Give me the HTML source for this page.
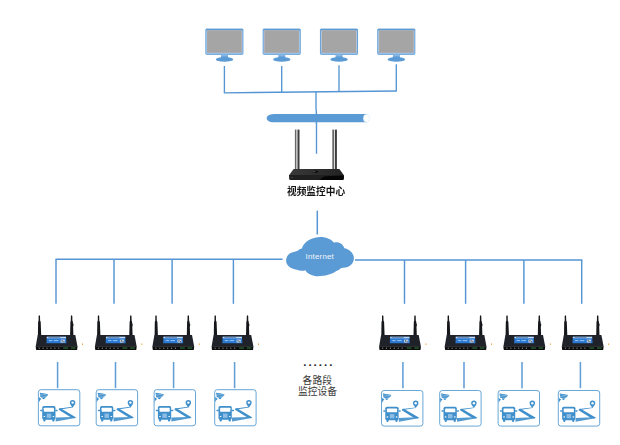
<!DOCTYPE html>
<html lang="zh-CN">
<head>
<meta charset="utf-8">
<title>视频监控中心</title>
<style>
html,body{margin:0;padding:0;background:#fff;}
body{width:620px;height:445px;overflow:hidden;position:relative;font-family:"Liberation Sans","Noto Sans CJK SC",sans-serif;}
svg{position:absolute;left:0;top:0;display:block;}
.t{position:absolute;white-space:nowrap;margin:0;}
#center{left:287px;top:185.6px;width:58px;text-align:center;font-size:9.7px;line-height:12px;font-weight:700;color:#141414;transform:scaleY(1.05);}
#inet{left:303.3px;top:251.7px;width:33px;text-align:center;font-size:7.9px;line-height:10px;color:#eef4fb;letter-spacing:0.2px;}
#dots{left:303.2px;top:355.0px;width:41px;text-align:left;font-size:11.5px;line-height:14px;color:#222;letter-spacing:2.0px;font-weight:700;}
#seg1{left:296.8px;top:374.8px;width:41px;text-align:center;font-size:9.8px;line-height:12px;color:#3a3a3a;}
#seg2{left:297px;top:385.9px;width:41px;text-align:center;font-size:9.8px;line-height:12px;color:#3a3a3a;}
</style>
</head>
<body>
<svg width="620" height="445" viewBox="0 0 620 445">
<g stroke="#5595d3" stroke-width="1.35" fill="none" stroke-linecap="butt"><line x1="224.4" y1="66" x2="224.4" y2="92.80"/>
<line x1="281.7" y1="66" x2="281.7" y2="92.20"/>
<line x1="339.0" y1="65.2" x2="339.0" y2="91.60"/>
<line x1="396.3" y1="64.2" x2="396.3" y2="91.00"/>
<line x1="223.8" y1="92.8" x2="396.9" y2="91.0"/>
<path d="M316 91.8 L316 108 L316.5 114 L316.5 153.8"/>
<line x1="317.3" y1="210.7" x2="317.3" y2="234.5" stroke-width="1.5"/>
<line x1="55.5" y1="259.2" x2="282.6" y2="259.2"/>
<line x1="355" y1="260" x2="582.4" y2="260"/>
<line x1="56" y1="259.2" x2="56" y2="303.8" stroke-width="1.45"/>
<line x1="114" y1="259.2" x2="114" y2="303.8" stroke-width="1.45"/>
<line x1="172.1" y1="259.2" x2="172.1" y2="303.8" stroke-width="1.45"/>
<line x1="233.4" y1="259.2" x2="233.4" y2="303.8" stroke-width="1.45"/>
<line x1="404.5" y1="260" x2="404.5" y2="303.8" stroke-width="1.45"/>
<line x1="465.6" y1="260" x2="465.6" y2="303.8" stroke-width="1.45"/>
<line x1="523.9" y1="260" x2="523.9" y2="303.8" stroke-width="1.45"/>
<line x1="581.7" y1="260" x2="581.7" y2="303.8" stroke-width="1.45"/>
<line x1="57.6" y1="362" x2="57.6" y2="388.2" stroke-width="1.55" stroke="#629ed7"/>
<line x1="115.5" y1="362" x2="115.5" y2="388.2" stroke-width="1.55" stroke="#629ed7"/>
<line x1="173.6" y1="362" x2="173.6" y2="388.2" stroke-width="1.55" stroke="#629ed7"/>
<line x1="234.6" y1="362" x2="234.6" y2="388.2" stroke-width="1.55" stroke="#629ed7"/>
<line x1="402.9" y1="362" x2="402.9" y2="388.2" stroke-width="1.55" stroke="#629ed7"/>
<line x1="464" y1="362" x2="464" y2="388.2" stroke-width="1.55" stroke="#629ed7"/>
<line x1="522" y1="362" x2="522" y2="388.2" stroke-width="1.55" stroke="#629ed7"/>
<line x1="580.4" y1="362" x2="580.4" y2="388.2" stroke-width="1.55" stroke="#629ed7"/></g>
<g transform="translate(205.4,28.6)">
<rect x="0.45" y="0.45" width="37.1" height="25.3" rx="0.6" fill="#b4d2ee" stroke="#5797d3" stroke-width="0.9"/>
<rect x="0.9" y="22.8" width="36.2" height="2.2" fill="#8cb9e3"/>
<rect x="0.5" y="0.4" width="37" height="1.4" rx="0.6" fill="#5b9bd5"/>
<rect x="1.6" y="1.7" width="34.8" height="22.4" fill="#b7adaf"/>
<rect x="2" y="2.1" width="34" height="21.6" fill="#a5a5a5"/>
<path d="M15.8 26 L22.4 26 L22.8 29.6 L15.4 29.6 Z" fill="#6ea6dc"/>
<rect x="15.8" y="26" width="6.6" height="1.2" fill="#8fbbe6"/>
<ellipse cx="19.1" cy="30.8" rx="8.7" ry="2.4" fill="#5b9bd5"/>
</g>
<g transform="translate(262.7,28.6)">
<rect x="0.45" y="0.45" width="37.1" height="25.3" rx="0.6" fill="#b4d2ee" stroke="#5797d3" stroke-width="0.9"/>
<rect x="0.9" y="22.8" width="36.2" height="2.2" fill="#8cb9e3"/>
<rect x="0.5" y="0.4" width="37" height="1.4" rx="0.6" fill="#5b9bd5"/>
<rect x="1.6" y="1.7" width="34.8" height="22.4" fill="#b7adaf"/>
<rect x="2" y="2.1" width="34" height="21.6" fill="#a5a5a5"/>
<path d="M15.8 26 L22.4 26 L22.8 29.6 L15.4 29.6 Z" fill="#6ea6dc"/>
<rect x="15.8" y="26" width="6.6" height="1.2" fill="#8fbbe6"/>
<ellipse cx="19.1" cy="30.8" rx="8.7" ry="2.4" fill="#5b9bd5"/>
</g>
<g transform="translate(320.0,28.6)">
<rect x="0.45" y="0.45" width="37.1" height="25.3" rx="0.6" fill="#b4d2ee" stroke="#5797d3" stroke-width="0.9"/>
<rect x="0.9" y="22.8" width="36.2" height="2.2" fill="#8cb9e3"/>
<rect x="0.5" y="0.4" width="37" height="1.4" rx="0.6" fill="#5b9bd5"/>
<rect x="1.6" y="1.7" width="34.8" height="22.4" fill="#b7adaf"/>
<rect x="2" y="2.1" width="34" height="21.6" fill="#a5a5a5"/>
<path d="M15.8 26 L22.4 26 L22.8 29.6 L15.4 29.6 Z" fill="#6ea6dc"/>
<rect x="15.8" y="26" width="6.6" height="1.2" fill="#8fbbe6"/>
<ellipse cx="19.1" cy="30.8" rx="8.7" ry="2.4" fill="#5b9bd5"/>
</g>
<g transform="translate(377.3,28.6)">
<rect x="0.45" y="0.45" width="37.1" height="25.3" rx="0.6" fill="#b4d2ee" stroke="#5797d3" stroke-width="0.9"/>
<rect x="0.9" y="22.8" width="36.2" height="2.2" fill="#8cb9e3"/>
<rect x="0.5" y="0.4" width="37" height="1.4" rx="0.6" fill="#5b9bd5"/>
<rect x="1.6" y="1.7" width="34.8" height="22.4" fill="#b7adaf"/>
<rect x="2" y="2.1" width="34" height="21.6" fill="#a5a5a5"/>
<path d="M15.8 26 L22.4 26 L22.8 29.6 L15.4 29.6 Z" fill="#6ea6dc"/>
<rect x="15.8" y="26" width="6.6" height="1.2" fill="#8fbbe6"/>
<ellipse cx="19.1" cy="30.8" rx="8.7" ry="2.4" fill="#5b9bd5"/>
</g>
<path d="M274 114 L366.6 114 L366.6 122.3 L274 122.3 C268.6 122.1 266.7 120 266.7 118.15 C266.7 116.3 268.6 114.2 274 114 Z" fill="#5b9bd5"/>
<ellipse cx="366.4" cy="118.15" rx="3.2" ry="4" fill="#fff" stroke="#5b9bd5" stroke-opacity="0.22" stroke-width="0.6"/>
<line x1="316.4" y1="113" x2="316.4" y2="124" stroke="#5b9bd5" stroke-width="1.3"/>
<g>
<defs><linearGradient id="rtop" x1="0" y1="0" x2="1" y2="0"><stop offset="0" stop-color="#3a3a3a"/><stop offset="0.5" stop-color="#2e2e2e"/><stop offset="1" stop-color="#222"/></linearGradient></defs>
<rect x="294.9" y="129.6" width="1.7" height="40" fill="#686868"/>
<rect x="296.6" y="129.6" width="0.9" height="40" fill="#ececec"/>
<rect x="297.5" y="129.6" width="2" height="40" fill="#3c3c3c"/>
<rect x="332.3" y="129.6" width="1.7" height="40" fill="#686868"/>
<rect x="334" y="129.6" width="0.9" height="40" fill="#ececec"/>
<rect x="334.9" y="129.6" width="2" height="40" fill="#3c3c3c"/>
<path d="M293.6 168.9 L339.4 168.9 L343.9 175.2 L289 175.2 Z" fill="url(#rtop)"/>
<path d="M289 175 L343.9 175 L343.7 179 Q343.5 179.9 342.6 179.9 L290.3 179.9 Q289.4 179.9 289.2 179 Z" fill="#1f1f1f"/>
<path d="M318 179.9 C322 179.6 322 176.4 326 176.2 L343.9 175.6 L343.7 179 Q343.5 179.9 342.6 179.9 Z" fill="#050505"/>
<ellipse cx="315.6" cy="171.8" rx="2.8" ry="1.2" fill="#121212"/>
<ellipse cx="314.2" cy="171.5" rx="1.2" ry="0.5" fill="#555"/>
<rect x="291.4" y="177" width="1.2" height="1" fill="#555"/>
</g>
<path fill="#5b9bd5" d="M286.1 260.6 C286.1 256 289.5 252.3 293.9 252 C295.5 251.6 297 251.2 298.2 250.6 C298.8 249.8 299.5 249.3 300.4 249.1 C301 248.9 301.6 248.6 302 248.2 C303.6 242.2 311.5 237 320.6 237 C326.6 237 331.6 239.6 334.2 242.8 C336 241.6 342.5 242.5 344.4 248.2 C349.5 249 354 253.5 353.9 258.4 C353.8 263 350 267.5 343 267.8 C342.3 267.9 341.7 268 341.2 268.1 C340.3 269.2 338 270.6 336.3 271.1 C332 274.5 325 276.2 318 276.2 C312.5 276.2 307.5 273.8 305.2 270.2 C303.5 271 299.5 271 296.9 269.8 C290.5 269 286.1 265.5 286.1 260.6 Z"/>
<g style="filter:blur(0.3px)">
<g transform="translate(35.7,315)">
<path d="M2.2 20.4 L2.4 7 L2.9 5.6 L2.9 0.9 Q3.6 -0.3 4.3 0.9 L4.4 5.6 L5 7 L5.5 20.4 Z" fill="#16171a"/>
<path d="M34.4 20.4 L34.7 7 L35.1 5.6 L35.2 0.9 Q35.9 -0.3 36.6 0.9 L36.7 5.6 L37.2 7 L37.3 8.6 L37.8 9 L37.7 11 L37.4 11.4 L37.7 20.4 Z" fill="#16171a"/>
<path d="M2 19.9 L39.6 19.9 L41.8 31.4 L0 31.4 Z" fill="#1f2229"/>
<path d="M0 31.2 L41.8 31.2 L41.5 34.5 Q41.4 34.9 41 34.9 L0.8 34.9 Q0.4 34.9 0.3 34.5 Z" fill="#0c0c0e"/>
<path d="M11.1 21.7 L30.3 21.7 L30.8 28.2 L10.7 28.2 Z" fill="#2a78d0"/>
<path d="M11.1 21.7 L30.3 21.7 L30.4 23.3 L11 23.3 Z" fill="#c4dbf3"/>
<rect x="12.6" y="22.1" width="12" height="0.7" fill="#4a6f9e"/>
<rect x="25" y="24.6" width="4.2" height="3" fill="#c9d1de"/>
<rect x="25.9" y="25.3" width="1.2" height="1.2" fill="#3a4a66"/>
<rect x="27.6" y="26.2" width="1.1" height="1.1" fill="#3a4a66"/>
<rect x="13.2" y="25" width="3.4" height="1.1" fill="#8cbcf0"/>
<rect x="18" y="25" width="4.6" height="1.1" fill="#8cbcf0"/>
<g fill="#7d7d7d"><rect x="3.0" y="32.6" width="1.1" height="1.3"/><rect x="6.9" y="32.6" width="1.1" height="1.3"/><rect x="10.8" y="32.6" width="1.1" height="1.3"/><rect x="14.7" y="32.6" width="1.1" height="1.3"/><rect x="18.6" y="32.6" width="1.1" height="1.3"/><rect x="22.5" y="32.6" width="1.1" height="1.3"/></g>
<rect x="27.6" y="32.3" width="4.8" height="1.5" fill="#22592a"/>
<rect x="35.2" y="32.3" width="4.6" height="1.5" fill="#22592a"/>
<rect x="46.4" y="28.4" width="0.9" height="1.6" fill="#f2a52a"/>
</g>
<g transform="translate(94.9,315)">
<path d="M2.2 20.4 L2.4 7 L2.9 5.6 L2.9 0.9 Q3.6 -0.3 4.3 0.9 L4.4 5.6 L5 7 L5.5 20.4 Z" fill="#16171a"/>
<path d="M34.4 20.4 L34.7 7 L35.1 5.6 L35.2 0.9 Q35.9 -0.3 36.6 0.9 L36.7 5.6 L37.2 7 L37.3 8.6 L37.8 9 L37.7 11 L37.4 11.4 L37.7 20.4 Z" fill="#16171a"/>
<path d="M2 19.9 L39.6 19.9 L41.8 31.4 L0 31.4 Z" fill="#1f2229"/>
<path d="M0 31.2 L41.8 31.2 L41.5 34.5 Q41.4 34.9 41 34.9 L0.8 34.9 Q0.4 34.9 0.3 34.5 Z" fill="#0c0c0e"/>
<path d="M11.1 21.7 L30.3 21.7 L30.8 28.2 L10.7 28.2 Z" fill="#2a78d0"/>
<path d="M11.1 21.7 L30.3 21.7 L30.4 23.3 L11 23.3 Z" fill="#c4dbf3"/>
<rect x="12.6" y="22.1" width="12" height="0.7" fill="#4a6f9e"/>
<rect x="25" y="24.6" width="4.2" height="3" fill="#c9d1de"/>
<rect x="25.9" y="25.3" width="1.2" height="1.2" fill="#3a4a66"/>
<rect x="27.6" y="26.2" width="1.1" height="1.1" fill="#3a4a66"/>
<rect x="13.2" y="25" width="3.4" height="1.1" fill="#8cbcf0"/>
<rect x="18" y="25" width="4.6" height="1.1" fill="#8cbcf0"/>
<g fill="#7d7d7d"><rect x="3.0" y="32.6" width="1.1" height="1.3"/><rect x="6.9" y="32.6" width="1.1" height="1.3"/><rect x="10.8" y="32.6" width="1.1" height="1.3"/><rect x="14.7" y="32.6" width="1.1" height="1.3"/><rect x="18.6" y="32.6" width="1.1" height="1.3"/><rect x="22.5" y="32.6" width="1.1" height="1.3"/></g>
<rect x="27.6" y="32.3" width="4.8" height="1.5" fill="#22592a"/>
<rect x="35.2" y="32.3" width="4.6" height="1.5" fill="#22592a"/>
<rect x="46.4" y="28.4" width="0.9" height="1.6" fill="#f2a52a"/>
</g>
<g transform="translate(152.4,315)">
<path d="M2.2 20.4 L2.4 7 L2.9 5.6 L2.9 0.9 Q3.6 -0.3 4.3 0.9 L4.4 5.6 L5 7 L5.5 20.4 Z" fill="#16171a"/>
<path d="M34.4 20.4 L34.7 7 L35.1 5.6 L35.2 0.9 Q35.9 -0.3 36.6 0.9 L36.7 5.6 L37.2 7 L37.3 8.6 L37.8 9 L37.7 11 L37.4 11.4 L37.7 20.4 Z" fill="#16171a"/>
<path d="M2 19.9 L39.6 19.9 L41.8 31.4 L0 31.4 Z" fill="#1f2229"/>
<path d="M0 31.2 L41.8 31.2 L41.5 34.5 Q41.4 34.9 41 34.9 L0.8 34.9 Q0.4 34.9 0.3 34.5 Z" fill="#0c0c0e"/>
<path d="M11.1 21.7 L30.3 21.7 L30.8 28.2 L10.7 28.2 Z" fill="#2a78d0"/>
<path d="M11.1 21.7 L30.3 21.7 L30.4 23.3 L11 23.3 Z" fill="#c4dbf3"/>
<rect x="12.6" y="22.1" width="12" height="0.7" fill="#4a6f9e"/>
<rect x="25" y="24.6" width="4.2" height="3" fill="#c9d1de"/>
<rect x="25.9" y="25.3" width="1.2" height="1.2" fill="#3a4a66"/>
<rect x="27.6" y="26.2" width="1.1" height="1.1" fill="#3a4a66"/>
<rect x="13.2" y="25" width="3.4" height="1.1" fill="#8cbcf0"/>
<rect x="18" y="25" width="4.6" height="1.1" fill="#8cbcf0"/>
<g fill="#7d7d7d"><rect x="3.0" y="32.6" width="1.1" height="1.3"/><rect x="6.9" y="32.6" width="1.1" height="1.3"/><rect x="10.8" y="32.6" width="1.1" height="1.3"/><rect x="14.7" y="32.6" width="1.1" height="1.3"/><rect x="18.6" y="32.6" width="1.1" height="1.3"/><rect x="22.5" y="32.6" width="1.1" height="1.3"/></g>
<rect x="27.6" y="32.3" width="4.8" height="1.5" fill="#22592a"/>
<rect x="35.2" y="32.3" width="4.6" height="1.5" fill="#22592a"/>
<rect x="46.4" y="28.4" width="0.9" height="1.6" fill="#f2a52a"/>
</g>
<g transform="translate(211.6,315)">
<path d="M2.2 20.4 L2.4 7 L2.9 5.6 L2.9 0.9 Q3.6 -0.3 4.3 0.9 L4.4 5.6 L5 7 L5.5 20.4 Z" fill="#16171a"/>
<path d="M34.4 20.4 L34.7 7 L35.1 5.6 L35.2 0.9 Q35.9 -0.3 36.6 0.9 L36.7 5.6 L37.2 7 L37.3 8.6 L37.8 9 L37.7 11 L37.4 11.4 L37.7 20.4 Z" fill="#16171a"/>
<path d="M2 19.9 L39.6 19.9 L41.8 31.4 L0 31.4 Z" fill="#1f2229"/>
<path d="M0 31.2 L41.8 31.2 L41.5 34.5 Q41.4 34.9 41 34.9 L0.8 34.9 Q0.4 34.9 0.3 34.5 Z" fill="#0c0c0e"/>
<path d="M11.1 21.7 L30.3 21.7 L30.8 28.2 L10.7 28.2 Z" fill="#2a78d0"/>
<path d="M11.1 21.7 L30.3 21.7 L30.4 23.3 L11 23.3 Z" fill="#c4dbf3"/>
<rect x="12.6" y="22.1" width="12" height="0.7" fill="#4a6f9e"/>
<rect x="25" y="24.6" width="4.2" height="3" fill="#c9d1de"/>
<rect x="25.9" y="25.3" width="1.2" height="1.2" fill="#3a4a66"/>
<rect x="27.6" y="26.2" width="1.1" height="1.1" fill="#3a4a66"/>
<rect x="13.2" y="25" width="3.4" height="1.1" fill="#8cbcf0"/>
<rect x="18" y="25" width="4.6" height="1.1" fill="#8cbcf0"/>
<g fill="#7d7d7d"><rect x="3.0" y="32.6" width="1.1" height="1.3"/><rect x="6.9" y="32.6" width="1.1" height="1.3"/><rect x="10.8" y="32.6" width="1.1" height="1.3"/><rect x="14.7" y="32.6" width="1.1" height="1.3"/><rect x="18.6" y="32.6" width="1.1" height="1.3"/><rect x="22.5" y="32.6" width="1.1" height="1.3"/></g>
<rect x="27.6" y="32.3" width="4.8" height="1.5" fill="#22592a"/>
<rect x="35.2" y="32.3" width="4.6" height="1.5" fill="#22592a"/>
<rect x="46.4" y="28.4" width="0.9" height="1.6" fill="#f2a52a"/>
</g>
<g transform="translate(379.1,315)">
<path d="M2.2 20.4 L2.4 7 L2.9 5.6 L2.9 0.9 Q3.6 -0.3 4.3 0.9 L4.4 5.6 L5 7 L5.5 20.4 Z" fill="#16171a"/>
<path d="M34.4 20.4 L34.7 7 L35.1 5.6 L35.2 0.9 Q35.9 -0.3 36.6 0.9 L36.7 5.6 L37.2 7 L37.3 8.6 L37.8 9 L37.7 11 L37.4 11.4 L37.7 20.4 Z" fill="#16171a"/>
<path d="M2 19.9 L39.6 19.9 L41.8 31.4 L0 31.4 Z" fill="#1f2229"/>
<path d="M0 31.2 L41.8 31.2 L41.5 34.5 Q41.4 34.9 41 34.9 L0.8 34.9 Q0.4 34.9 0.3 34.5 Z" fill="#0c0c0e"/>
<path d="M11.1 21.7 L30.3 21.7 L30.8 28.2 L10.7 28.2 Z" fill="#2a78d0"/>
<path d="M11.1 21.7 L30.3 21.7 L30.4 23.3 L11 23.3 Z" fill="#c4dbf3"/>
<rect x="12.6" y="22.1" width="12" height="0.7" fill="#4a6f9e"/>
<rect x="25" y="24.6" width="4.2" height="3" fill="#c9d1de"/>
<rect x="25.9" y="25.3" width="1.2" height="1.2" fill="#3a4a66"/>
<rect x="27.6" y="26.2" width="1.1" height="1.1" fill="#3a4a66"/>
<rect x="13.2" y="25" width="3.4" height="1.1" fill="#8cbcf0"/>
<rect x="18" y="25" width="4.6" height="1.1" fill="#8cbcf0"/>
<g fill="#7d7d7d"><rect x="3.0" y="32.6" width="1.1" height="1.3"/><rect x="6.9" y="32.6" width="1.1" height="1.3"/><rect x="10.8" y="32.6" width="1.1" height="1.3"/><rect x="14.7" y="32.6" width="1.1" height="1.3"/><rect x="18.6" y="32.6" width="1.1" height="1.3"/><rect x="22.5" y="32.6" width="1.1" height="1.3"/></g>
<rect x="27.6" y="32.3" width="4.8" height="1.5" fill="#22592a"/>
<rect x="35.2" y="32.3" width="4.6" height="1.5" fill="#22592a"/>
<rect x="46.4" y="28.4" width="0.9" height="1.6" fill="#f2a52a"/>
</g>
<g transform="translate(444.7,315)">
<path d="M2.2 20.4 L2.4 7 L2.9 5.6 L2.9 0.9 Q3.6 -0.3 4.3 0.9 L4.4 5.6 L5 7 L5.5 20.4 Z" fill="#16171a"/>
<path d="M34.4 20.4 L34.7 7 L35.1 5.6 L35.2 0.9 Q35.9 -0.3 36.6 0.9 L36.7 5.6 L37.2 7 L37.3 8.6 L37.8 9 L37.7 11 L37.4 11.4 L37.7 20.4 Z" fill="#16171a"/>
<path d="M2 19.9 L39.6 19.9 L41.8 31.4 L0 31.4 Z" fill="#1f2229"/>
<path d="M0 31.2 L41.8 31.2 L41.5 34.5 Q41.4 34.9 41 34.9 L0.8 34.9 Q0.4 34.9 0.3 34.5 Z" fill="#0c0c0e"/>
<path d="M11.1 21.7 L30.3 21.7 L30.8 28.2 L10.7 28.2 Z" fill="#2a78d0"/>
<path d="M11.1 21.7 L30.3 21.7 L30.4 23.3 L11 23.3 Z" fill="#c4dbf3"/>
<rect x="12.6" y="22.1" width="12" height="0.7" fill="#4a6f9e"/>
<rect x="25" y="24.6" width="4.2" height="3" fill="#c9d1de"/>
<rect x="25.9" y="25.3" width="1.2" height="1.2" fill="#3a4a66"/>
<rect x="27.6" y="26.2" width="1.1" height="1.1" fill="#3a4a66"/>
<rect x="13.2" y="25" width="3.4" height="1.1" fill="#8cbcf0"/>
<rect x="18" y="25" width="4.6" height="1.1" fill="#8cbcf0"/>
<g fill="#7d7d7d"><rect x="3.0" y="32.6" width="1.1" height="1.3"/><rect x="6.9" y="32.6" width="1.1" height="1.3"/><rect x="10.8" y="32.6" width="1.1" height="1.3"/><rect x="14.7" y="32.6" width="1.1" height="1.3"/><rect x="18.6" y="32.6" width="1.1" height="1.3"/><rect x="22.5" y="32.6" width="1.1" height="1.3"/></g>
<rect x="27.6" y="32.3" width="4.8" height="1.5" fill="#22592a"/>
<rect x="35.2" y="32.3" width="4.6" height="1.5" fill="#22592a"/>
<rect x="46.4" y="28.4" width="0.9" height="1.6" fill="#f2a52a"/>
</g>
<g transform="translate(503.4,315)">
<path d="M2.2 20.4 L2.4 7 L2.9 5.6 L2.9 0.9 Q3.6 -0.3 4.3 0.9 L4.4 5.6 L5 7 L5.5 20.4 Z" fill="#16171a"/>
<path d="M34.4 20.4 L34.7 7 L35.1 5.6 L35.2 0.9 Q35.9 -0.3 36.6 0.9 L36.7 5.6 L37.2 7 L37.3 8.6 L37.8 9 L37.7 11 L37.4 11.4 L37.7 20.4 Z" fill="#16171a"/>
<path d="M2 19.9 L39.6 19.9 L41.8 31.4 L0 31.4 Z" fill="#1f2229"/>
<path d="M0 31.2 L41.8 31.2 L41.5 34.5 Q41.4 34.9 41 34.9 L0.8 34.9 Q0.4 34.9 0.3 34.5 Z" fill="#0c0c0e"/>
<path d="M11.1 21.7 L30.3 21.7 L30.8 28.2 L10.7 28.2 Z" fill="#2a78d0"/>
<path d="M11.1 21.7 L30.3 21.7 L30.4 23.3 L11 23.3 Z" fill="#c4dbf3"/>
<rect x="12.6" y="22.1" width="12" height="0.7" fill="#4a6f9e"/>
<rect x="25" y="24.6" width="4.2" height="3" fill="#c9d1de"/>
<rect x="25.9" y="25.3" width="1.2" height="1.2" fill="#3a4a66"/>
<rect x="27.6" y="26.2" width="1.1" height="1.1" fill="#3a4a66"/>
<rect x="13.2" y="25" width="3.4" height="1.1" fill="#8cbcf0"/>
<rect x="18" y="25" width="4.6" height="1.1" fill="#8cbcf0"/>
<g fill="#7d7d7d"><rect x="3.0" y="32.6" width="1.1" height="1.3"/><rect x="6.9" y="32.6" width="1.1" height="1.3"/><rect x="10.8" y="32.6" width="1.1" height="1.3"/><rect x="14.7" y="32.6" width="1.1" height="1.3"/><rect x="18.6" y="32.6" width="1.1" height="1.3"/><rect x="22.5" y="32.6" width="1.1" height="1.3"/></g>
<rect x="27.6" y="32.3" width="4.8" height="1.5" fill="#22592a"/>
<rect x="35.2" y="32.3" width="4.6" height="1.5" fill="#22592a"/>
<rect x="46.4" y="28.4" width="0.9" height="1.6" fill="#f2a52a"/>
</g>
<g transform="translate(561.8,315)">
<path d="M2.2 20.4 L2.4 7 L2.9 5.6 L2.9 0.9 Q3.6 -0.3 4.3 0.9 L4.4 5.6 L5 7 L5.5 20.4 Z" fill="#16171a"/>
<path d="M34.4 20.4 L34.7 7 L35.1 5.6 L35.2 0.9 Q35.9 -0.3 36.6 0.9 L36.7 5.6 L37.2 7 L37.3 8.6 L37.8 9 L37.7 11 L37.4 11.4 L37.7 20.4 Z" fill="#16171a"/>
<path d="M2 19.9 L39.6 19.9 L41.8 31.4 L0 31.4 Z" fill="#1f2229"/>
<path d="M0 31.2 L41.8 31.2 L41.5 34.5 Q41.4 34.9 41 34.9 L0.8 34.9 Q0.4 34.9 0.3 34.5 Z" fill="#0c0c0e"/>
<path d="M11.1 21.7 L30.3 21.7 L30.8 28.2 L10.7 28.2 Z" fill="#2a78d0"/>
<path d="M11.1 21.7 L30.3 21.7 L30.4 23.3 L11 23.3 Z" fill="#c4dbf3"/>
<rect x="12.6" y="22.1" width="12" height="0.7" fill="#4a6f9e"/>
<rect x="25" y="24.6" width="4.2" height="3" fill="#c9d1de"/>
<rect x="25.9" y="25.3" width="1.2" height="1.2" fill="#3a4a66"/>
<rect x="27.6" y="26.2" width="1.1" height="1.1" fill="#3a4a66"/>
<rect x="13.2" y="25" width="3.4" height="1.1" fill="#8cbcf0"/>
<rect x="18" y="25" width="4.6" height="1.1" fill="#8cbcf0"/>
<g fill="#7d7d7d"><rect x="3.0" y="32.6" width="1.1" height="1.3"/><rect x="6.9" y="32.6" width="1.1" height="1.3"/><rect x="10.8" y="32.6" width="1.1" height="1.3"/><rect x="14.7" y="32.6" width="1.1" height="1.3"/><rect x="18.6" y="32.6" width="1.1" height="1.3"/><rect x="22.5" y="32.6" width="1.1" height="1.3"/></g>
<rect x="27.6" y="32.3" width="4.8" height="1.5" fill="#22592a"/>
<rect x="35.2" y="32.3" width="4.6" height="1.5" fill="#22592a"/>
<rect x="46.4" y="28.4" width="0.9" height="1.6" fill="#f2a52a"/>
</g>
</g>
<g transform="translate(38.1,389.4) scale(1,0.992)">
<rect x="0.3" y="0.3" width="41.4" height="36.4" rx="2.6" fill="#fff" stroke="#3f8fcb" stroke-width="0.8"/>
<g fill="#3f8fcb">
<path d="M1.8 3.5 L10 4.9 L9.8 5.9 L8.2 7.6 L6.8 8.3 L2.4 7.7 Z" opacity="0.55"/>
<path d="M1.7 3.4 L10 4.8 L9.9 5.5 L1.8 4.4 Z"/>
<path d="M1.9 5 L9.4 6.1 L8.8 6.9 L2.1 6.1 Z"/>
<path d="M2.2 6.7 L8 7.5 L7 8.3 L2.5 7.8 Z"/>
<path d="M4 8.2 L7 8.6 L6 9.9 L4.6 9.8 Z"/>
<path d="M0.7 7.6 L3.3 9.7 L2 10.6 L0.9 12.9 Z"/>
<rect x="4.1" y="16.8" width="13.3" height="13.8" rx="1.7"/>
<rect x="2" y="20.4" width="2.4" height="1.6" rx="0.7"/>
<rect x="17.2" y="20.4" width="2.4" height="1.6" rx="0.7"/>
<rect x="5.2" y="29.6" width="2.2" height="2.8" rx="0.8"/>
<rect x="14.2" y="29.6" width="2.2" height="2.8" rx="0.8"/>
<path d="M34.2 17.6 L34.4 18.3 L22 20.3 L21.2 19.3 Z"/>
<path d="M21 19.2 L22.6 18.9 L37.6 28 L36.6 29 L33 28.4 L20.6 20.4 Z"/>
<path d="M17.6 28.3 L34 27.7 L37.6 28 L37.2 28.8 L17.6 32.3 Z" opacity="0.9"/>
<path d="M34.5 10.6 a2.75 2.75 0 0 1 2.75 2.75 c0 1.9 -1.9 3 -2.75 5.1 c-0.85 -2.1 -2.75 -3.2 -2.75 -5.1 a2.75 2.75 0 0 1 2.75 -2.75 Z"/>
</g>
<circle cx="34.5" cy="13.3" r="1.2" fill="#fff"/>
<rect x="5.7" y="18.6" width="10.2" height="4" rx="0.5" fill="#fff"/>
<rect x="8.6" y="24.4" width="4.5" height="4.3" fill="#8dbde4"/>
<ellipse cx="6.2" cy="27.3" rx="0.9" ry="0.6" fill="#fff"/>
<ellipse cx="15.4" cy="27.3" rx="0.9" ry="0.6" fill="#fff"/>
</g>
<g transform="translate(95.9,389.4) scale(1,0.992)">
<rect x="0.3" y="0.3" width="41.4" height="36.4" rx="2.6" fill="#fff" stroke="#3f8fcb" stroke-width="0.8"/>
<g fill="#3f8fcb">
<path d="M1.8 3.5 L10 4.9 L9.8 5.9 L8.2 7.6 L6.8 8.3 L2.4 7.7 Z" opacity="0.55"/>
<path d="M1.7 3.4 L10 4.8 L9.9 5.5 L1.8 4.4 Z"/>
<path d="M1.9 5 L9.4 6.1 L8.8 6.9 L2.1 6.1 Z"/>
<path d="M2.2 6.7 L8 7.5 L7 8.3 L2.5 7.8 Z"/>
<path d="M4 8.2 L7 8.6 L6 9.9 L4.6 9.8 Z"/>
<path d="M0.7 7.6 L3.3 9.7 L2 10.6 L0.9 12.9 Z"/>
<rect x="4.1" y="16.8" width="13.3" height="13.8" rx="1.7"/>
<rect x="2" y="20.4" width="2.4" height="1.6" rx="0.7"/>
<rect x="17.2" y="20.4" width="2.4" height="1.6" rx="0.7"/>
<rect x="5.2" y="29.6" width="2.2" height="2.8" rx="0.8"/>
<rect x="14.2" y="29.6" width="2.2" height="2.8" rx="0.8"/>
<path d="M34.2 17.6 L34.4 18.3 L22 20.3 L21.2 19.3 Z"/>
<path d="M21 19.2 L22.6 18.9 L37.6 28 L36.6 29 L33 28.4 L20.6 20.4 Z"/>
<path d="M17.6 28.3 L34 27.7 L37.6 28 L37.2 28.8 L17.6 32.3 Z" opacity="0.9"/>
<path d="M34.5 10.6 a2.75 2.75 0 0 1 2.75 2.75 c0 1.9 -1.9 3 -2.75 5.1 c-0.85 -2.1 -2.75 -3.2 -2.75 -5.1 a2.75 2.75 0 0 1 2.75 -2.75 Z"/>
</g>
<circle cx="34.5" cy="13.3" r="1.2" fill="#fff"/>
<rect x="5.7" y="18.6" width="10.2" height="4" rx="0.5" fill="#fff"/>
<rect x="8.6" y="24.4" width="4.5" height="4.3" fill="#8dbde4"/>
<ellipse cx="6.2" cy="27.3" rx="0.9" ry="0.6" fill="#fff"/>
<ellipse cx="15.4" cy="27.3" rx="0.9" ry="0.6" fill="#fff"/>
</g>
<g transform="translate(153.8,389.4) scale(1,0.992)">
<rect x="0.3" y="0.3" width="41.4" height="36.4" rx="2.6" fill="#fff" stroke="#3f8fcb" stroke-width="0.8"/>
<g fill="#3f8fcb">
<path d="M1.8 3.5 L10 4.9 L9.8 5.9 L8.2 7.6 L6.8 8.3 L2.4 7.7 Z" opacity="0.55"/>
<path d="M1.7 3.4 L10 4.8 L9.9 5.5 L1.8 4.4 Z"/>
<path d="M1.9 5 L9.4 6.1 L8.8 6.9 L2.1 6.1 Z"/>
<path d="M2.2 6.7 L8 7.5 L7 8.3 L2.5 7.8 Z"/>
<path d="M4 8.2 L7 8.6 L6 9.9 L4.6 9.8 Z"/>
<path d="M0.7 7.6 L3.3 9.7 L2 10.6 L0.9 12.9 Z"/>
<rect x="4.1" y="16.8" width="13.3" height="13.8" rx="1.7"/>
<rect x="2" y="20.4" width="2.4" height="1.6" rx="0.7"/>
<rect x="17.2" y="20.4" width="2.4" height="1.6" rx="0.7"/>
<rect x="5.2" y="29.6" width="2.2" height="2.8" rx="0.8"/>
<rect x="14.2" y="29.6" width="2.2" height="2.8" rx="0.8"/>
<path d="M34.2 17.6 L34.4 18.3 L22 20.3 L21.2 19.3 Z"/>
<path d="M21 19.2 L22.6 18.9 L37.6 28 L36.6 29 L33 28.4 L20.6 20.4 Z"/>
<path d="M17.6 28.3 L34 27.7 L37.6 28 L37.2 28.8 L17.6 32.3 Z" opacity="0.9"/>
<path d="M34.5 10.6 a2.75 2.75 0 0 1 2.75 2.75 c0 1.9 -1.9 3 -2.75 5.1 c-0.85 -2.1 -2.75 -3.2 -2.75 -5.1 a2.75 2.75 0 0 1 2.75 -2.75 Z"/>
</g>
<circle cx="34.5" cy="13.3" r="1.2" fill="#fff"/>
<rect x="5.7" y="18.6" width="10.2" height="4" rx="0.5" fill="#fff"/>
<rect x="8.6" y="24.4" width="4.5" height="4.3" fill="#8dbde4"/>
<ellipse cx="6.2" cy="27.3" rx="0.9" ry="0.6" fill="#fff"/>
<ellipse cx="15.4" cy="27.3" rx="0.9" ry="0.6" fill="#fff"/>
</g>
<g transform="translate(214.4,389.4) scale(1,0.992)">
<rect x="0.3" y="0.3" width="41.4" height="36.4" rx="2.6" fill="#fff" stroke="#3f8fcb" stroke-width="0.8"/>
<g fill="#3f8fcb">
<path d="M1.8 3.5 L10 4.9 L9.8 5.9 L8.2 7.6 L6.8 8.3 L2.4 7.7 Z" opacity="0.55"/>
<path d="M1.7 3.4 L10 4.8 L9.9 5.5 L1.8 4.4 Z"/>
<path d="M1.9 5 L9.4 6.1 L8.8 6.9 L2.1 6.1 Z"/>
<path d="M2.2 6.7 L8 7.5 L7 8.3 L2.5 7.8 Z"/>
<path d="M4 8.2 L7 8.6 L6 9.9 L4.6 9.8 Z"/>
<path d="M0.7 7.6 L3.3 9.7 L2 10.6 L0.9 12.9 Z"/>
<rect x="4.1" y="16.8" width="13.3" height="13.8" rx="1.7"/>
<rect x="2" y="20.4" width="2.4" height="1.6" rx="0.7"/>
<rect x="17.2" y="20.4" width="2.4" height="1.6" rx="0.7"/>
<rect x="5.2" y="29.6" width="2.2" height="2.8" rx="0.8"/>
<rect x="14.2" y="29.6" width="2.2" height="2.8" rx="0.8"/>
<path d="M34.2 17.6 L34.4 18.3 L22 20.3 L21.2 19.3 Z"/>
<path d="M21 19.2 L22.6 18.9 L37.6 28 L36.6 29 L33 28.4 L20.6 20.4 Z"/>
<path d="M17.6 28.3 L34 27.7 L37.6 28 L37.2 28.8 L17.6 32.3 Z" opacity="0.9"/>
<path d="M34.5 10.6 a2.75 2.75 0 0 1 2.75 2.75 c0 1.9 -1.9 3 -2.75 5.1 c-0.85 -2.1 -2.75 -3.2 -2.75 -5.1 a2.75 2.75 0 0 1 2.75 -2.75 Z"/>
</g>
<circle cx="34.5" cy="13.3" r="1.2" fill="#fff"/>
<rect x="5.7" y="18.6" width="10.2" height="4" rx="0.5" fill="#fff"/>
<rect x="8.6" y="24.4" width="4.5" height="4.3" fill="#8dbde4"/>
<ellipse cx="6.2" cy="27.3" rx="0.9" ry="0.6" fill="#fff"/>
<ellipse cx="15.4" cy="27.3" rx="0.9" ry="0.6" fill="#fff"/>
</g>
<g transform="translate(381.2,390.2) scale(1,0.978)">
<rect x="0.3" y="0.3" width="41.4" height="36.4" rx="2.6" fill="#fff" stroke="#3f8fcb" stroke-width="0.8"/>
<g fill="#3f8fcb">
<path d="M1.8 3.5 L10 4.9 L9.8 5.9 L8.2 7.6 L6.8 8.3 L2.4 7.7 Z" opacity="0.55"/>
<path d="M1.7 3.4 L10 4.8 L9.9 5.5 L1.8 4.4 Z"/>
<path d="M1.9 5 L9.4 6.1 L8.8 6.9 L2.1 6.1 Z"/>
<path d="M2.2 6.7 L8 7.5 L7 8.3 L2.5 7.8 Z"/>
<path d="M4 8.2 L7 8.6 L6 9.9 L4.6 9.8 Z"/>
<path d="M0.7 7.6 L3.3 9.7 L2 10.6 L0.9 12.9 Z"/>
<rect x="4.1" y="16.8" width="13.3" height="13.8" rx="1.7"/>
<rect x="2" y="20.4" width="2.4" height="1.6" rx="0.7"/>
<rect x="17.2" y="20.4" width="2.4" height="1.6" rx="0.7"/>
<rect x="5.2" y="29.6" width="2.2" height="2.8" rx="0.8"/>
<rect x="14.2" y="29.6" width="2.2" height="2.8" rx="0.8"/>
<path d="M34.2 17.6 L34.4 18.3 L22 20.3 L21.2 19.3 Z"/>
<path d="M21 19.2 L22.6 18.9 L37.6 28 L36.6 29 L33 28.4 L20.6 20.4 Z"/>
<path d="M17.6 28.3 L34 27.7 L37.6 28 L37.2 28.8 L17.6 32.3 Z" opacity="0.9"/>
<path d="M34.5 10.6 a2.75 2.75 0 0 1 2.75 2.75 c0 1.9 -1.9 3 -2.75 5.1 c-0.85 -2.1 -2.75 -3.2 -2.75 -5.1 a2.75 2.75 0 0 1 2.75 -2.75 Z"/>
</g>
<circle cx="34.5" cy="13.3" r="1.2" fill="#fff"/>
<rect x="5.7" y="18.6" width="10.2" height="4" rx="0.5" fill="#fff"/>
<rect x="8.6" y="24.4" width="4.5" height="4.3" fill="#8dbde4"/>
<ellipse cx="6.2" cy="27.3" rx="0.9" ry="0.6" fill="#fff"/>
<ellipse cx="15.4" cy="27.3" rx="0.9" ry="0.6" fill="#fff"/>
</g>
<g transform="translate(439.4,390.2) scale(1,0.978)">
<rect x="0.3" y="0.3" width="41.4" height="36.4" rx="2.6" fill="#fff" stroke="#3f8fcb" stroke-width="0.8"/>
<g fill="#3f8fcb">
<path d="M1.8 3.5 L10 4.9 L9.8 5.9 L8.2 7.6 L6.8 8.3 L2.4 7.7 Z" opacity="0.55"/>
<path d="M1.7 3.4 L10 4.8 L9.9 5.5 L1.8 4.4 Z"/>
<path d="M1.9 5 L9.4 6.1 L8.8 6.9 L2.1 6.1 Z"/>
<path d="M2.2 6.7 L8 7.5 L7 8.3 L2.5 7.8 Z"/>
<path d="M4 8.2 L7 8.6 L6 9.9 L4.6 9.8 Z"/>
<path d="M0.7 7.6 L3.3 9.7 L2 10.6 L0.9 12.9 Z"/>
<rect x="4.1" y="16.8" width="13.3" height="13.8" rx="1.7"/>
<rect x="2" y="20.4" width="2.4" height="1.6" rx="0.7"/>
<rect x="17.2" y="20.4" width="2.4" height="1.6" rx="0.7"/>
<rect x="5.2" y="29.6" width="2.2" height="2.8" rx="0.8"/>
<rect x="14.2" y="29.6" width="2.2" height="2.8" rx="0.8"/>
<path d="M34.2 17.6 L34.4 18.3 L22 20.3 L21.2 19.3 Z"/>
<path d="M21 19.2 L22.6 18.9 L37.6 28 L36.6 29 L33 28.4 L20.6 20.4 Z"/>
<path d="M17.6 28.3 L34 27.7 L37.6 28 L37.2 28.8 L17.6 32.3 Z" opacity="0.9"/>
<path d="M34.5 10.6 a2.75 2.75 0 0 1 2.75 2.75 c0 1.9 -1.9 3 -2.75 5.1 c-0.85 -2.1 -2.75 -3.2 -2.75 -5.1 a2.75 2.75 0 0 1 2.75 -2.75 Z"/>
</g>
<circle cx="34.5" cy="13.3" r="1.2" fill="#fff"/>
<rect x="5.7" y="18.6" width="10.2" height="4" rx="0.5" fill="#fff"/>
<rect x="8.6" y="24.4" width="4.5" height="4.3" fill="#8dbde4"/>
<ellipse cx="6.2" cy="27.3" rx="0.9" ry="0.6" fill="#fff"/>
<ellipse cx="15.4" cy="27.3" rx="0.9" ry="0.6" fill="#fff"/>
</g>
<g transform="translate(497.8,390.2) scale(1,0.978)">
<rect x="0.3" y="0.3" width="41.4" height="36.4" rx="2.6" fill="#fff" stroke="#3f8fcb" stroke-width="0.8"/>
<g fill="#3f8fcb">
<path d="M1.8 3.5 L10 4.9 L9.8 5.9 L8.2 7.6 L6.8 8.3 L2.4 7.7 Z" opacity="0.55"/>
<path d="M1.7 3.4 L10 4.8 L9.9 5.5 L1.8 4.4 Z"/>
<path d="M1.9 5 L9.4 6.1 L8.8 6.9 L2.1 6.1 Z"/>
<path d="M2.2 6.7 L8 7.5 L7 8.3 L2.5 7.8 Z"/>
<path d="M4 8.2 L7 8.6 L6 9.9 L4.6 9.8 Z"/>
<path d="M0.7 7.6 L3.3 9.7 L2 10.6 L0.9 12.9 Z"/>
<rect x="4.1" y="16.8" width="13.3" height="13.8" rx="1.7"/>
<rect x="2" y="20.4" width="2.4" height="1.6" rx="0.7"/>
<rect x="17.2" y="20.4" width="2.4" height="1.6" rx="0.7"/>
<rect x="5.2" y="29.6" width="2.2" height="2.8" rx="0.8"/>
<rect x="14.2" y="29.6" width="2.2" height="2.8" rx="0.8"/>
<path d="M34.2 17.6 L34.4 18.3 L22 20.3 L21.2 19.3 Z"/>
<path d="M21 19.2 L22.6 18.9 L37.6 28 L36.6 29 L33 28.4 L20.6 20.4 Z"/>
<path d="M17.6 28.3 L34 27.7 L37.6 28 L37.2 28.8 L17.6 32.3 Z" opacity="0.9"/>
<path d="M34.5 10.6 a2.75 2.75 0 0 1 2.75 2.75 c0 1.9 -1.9 3 -2.75 5.1 c-0.85 -2.1 -2.75 -3.2 -2.75 -5.1 a2.75 2.75 0 0 1 2.75 -2.75 Z"/>
</g>
<circle cx="34.5" cy="13.3" r="1.2" fill="#fff"/>
<rect x="5.7" y="18.6" width="10.2" height="4" rx="0.5" fill="#fff"/>
<rect x="8.6" y="24.4" width="4.5" height="4.3" fill="#8dbde4"/>
<ellipse cx="6.2" cy="27.3" rx="0.9" ry="0.6" fill="#fff"/>
<ellipse cx="15.4" cy="27.3" rx="0.9" ry="0.6" fill="#fff"/>
</g>
<g transform="translate(558.0,390.2) scale(1,0.978)">
<rect x="0.3" y="0.3" width="41.4" height="36.4" rx="2.6" fill="#fff" stroke="#3f8fcb" stroke-width="0.8"/>
<g fill="#3f8fcb">
<path d="M1.8 3.5 L10 4.9 L9.8 5.9 L8.2 7.6 L6.8 8.3 L2.4 7.7 Z" opacity="0.55"/>
<path d="M1.7 3.4 L10 4.8 L9.9 5.5 L1.8 4.4 Z"/>
<path d="M1.9 5 L9.4 6.1 L8.8 6.9 L2.1 6.1 Z"/>
<path d="M2.2 6.7 L8 7.5 L7 8.3 L2.5 7.8 Z"/>
<path d="M4 8.2 L7 8.6 L6 9.9 L4.6 9.8 Z"/>
<path d="M0.7 7.6 L3.3 9.7 L2 10.6 L0.9 12.9 Z"/>
<rect x="4.1" y="16.8" width="13.3" height="13.8" rx="1.7"/>
<rect x="2" y="20.4" width="2.4" height="1.6" rx="0.7"/>
<rect x="17.2" y="20.4" width="2.4" height="1.6" rx="0.7"/>
<rect x="5.2" y="29.6" width="2.2" height="2.8" rx="0.8"/>
<rect x="14.2" y="29.6" width="2.2" height="2.8" rx="0.8"/>
<path d="M34.2 17.6 L34.4 18.3 L22 20.3 L21.2 19.3 Z"/>
<path d="M21 19.2 L22.6 18.9 L37.6 28 L36.6 29 L33 28.4 L20.6 20.4 Z"/>
<path d="M17.6 28.3 L34 27.7 L37.6 28 L37.2 28.8 L17.6 32.3 Z" opacity="0.9"/>
<path d="M34.5 10.6 a2.75 2.75 0 0 1 2.75 2.75 c0 1.9 -1.9 3 -2.75 5.1 c-0.85 -2.1 -2.75 -3.2 -2.75 -5.1 a2.75 2.75 0 0 1 2.75 -2.75 Z"/>
</g>
<circle cx="34.5" cy="13.3" r="1.2" fill="#fff"/>
<rect x="5.7" y="18.6" width="10.2" height="4" rx="0.5" fill="#fff"/>
<rect x="8.6" y="24.4" width="4.5" height="4.3" fill="#8dbde4"/>
<ellipse cx="6.2" cy="27.3" rx="0.9" ry="0.6" fill="#fff"/>
<ellipse cx="15.4" cy="27.3" rx="0.9" ry="0.6" fill="#fff"/>
</g>
</svg>
<div class="t" id="center">视频监控中心</div>
<div class="t" id="inet">Internet</div>
<div class="t" id="dots">......</div>
<div class="t" id="seg1">各路段</div>
<div class="t" id="seg2">监控设备</div>
</body>
</html>
